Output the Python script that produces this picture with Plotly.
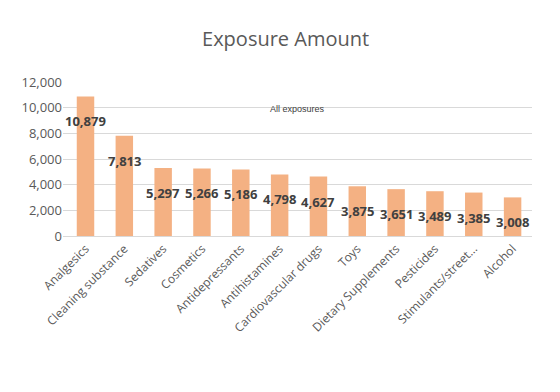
import plotly.graph_objects as go

categories = ["Analgesics", "Cleaning substance", "Sedatives", "Cosmetics",
              "Antidepressants", "Antihistamines", "Cardiovascular drugs", "Toys",
              "Dietary Supplements", "Pesticides", "Stimulants/street...", "Alcohol"]
exposures = [10879, 7813, 5297, 5266, 5186, 4798, 4627, 3875, 3651, 3489, 3385, 3008]
y_ticks = [0, 2000, 4000, 6000, 8000, 10000, 12000]

BAR = "#F4B183"
TEXT = "#595959"
FONT = "Open Sans"

fig = go.Figure(go.Bar(
    x=categories, y=exposures, marker_color=BAR, marker_line_width=0,
    name="All exposures", showlegend=False,
))

# value labels sit just below each bar's top
for c, v in zip(categories, exposures):
    fig.add_annotation(x=c, y=v, text=f"<b>{v:,}</b>", showarrow=False,
                       yshift=-25, font=dict(family=FONT, size=13, color="#404040"))

fig.add_annotation(x=0.5, y=1.0, xref="paper", yref="paper", yanchor="top",
                   yshift=-20, text="All exposures", showarrow=False,
                   font=dict(family="Liberation Sans", size=9, color="#404040"))

fig.update_layout(
    width=560, height=392,
    margin=dict(l=63, r=28, t=82, b=156),
    paper_bgcolor="white", plot_bgcolor="white",
    title=dict(text="Exposure Amount", x=0.51, xanchor="center", y=0.9, yanchor="middle",
               font=dict(family=FONT, size=20, color=TEXT)),
    bargap=0.55,
    font=dict(family=FONT, color=TEXT),
)
fig.update_yaxes(range=[0, 12000], tickvals=y_ticks, tickformat=",",
                 showgrid=True, gridcolor="#D9D9D9", gridwidth=1, zeroline=False,
                 showline=False, ticks="", tickfont=dict(size=13, color=TEXT))
fig.update_xaxes(tickangle=-45, showline=True, linecolor="#D9D9D9", ticks="",
                 tickfont=dict(size=12, color=TEXT))

fig.write_html("out.html")
